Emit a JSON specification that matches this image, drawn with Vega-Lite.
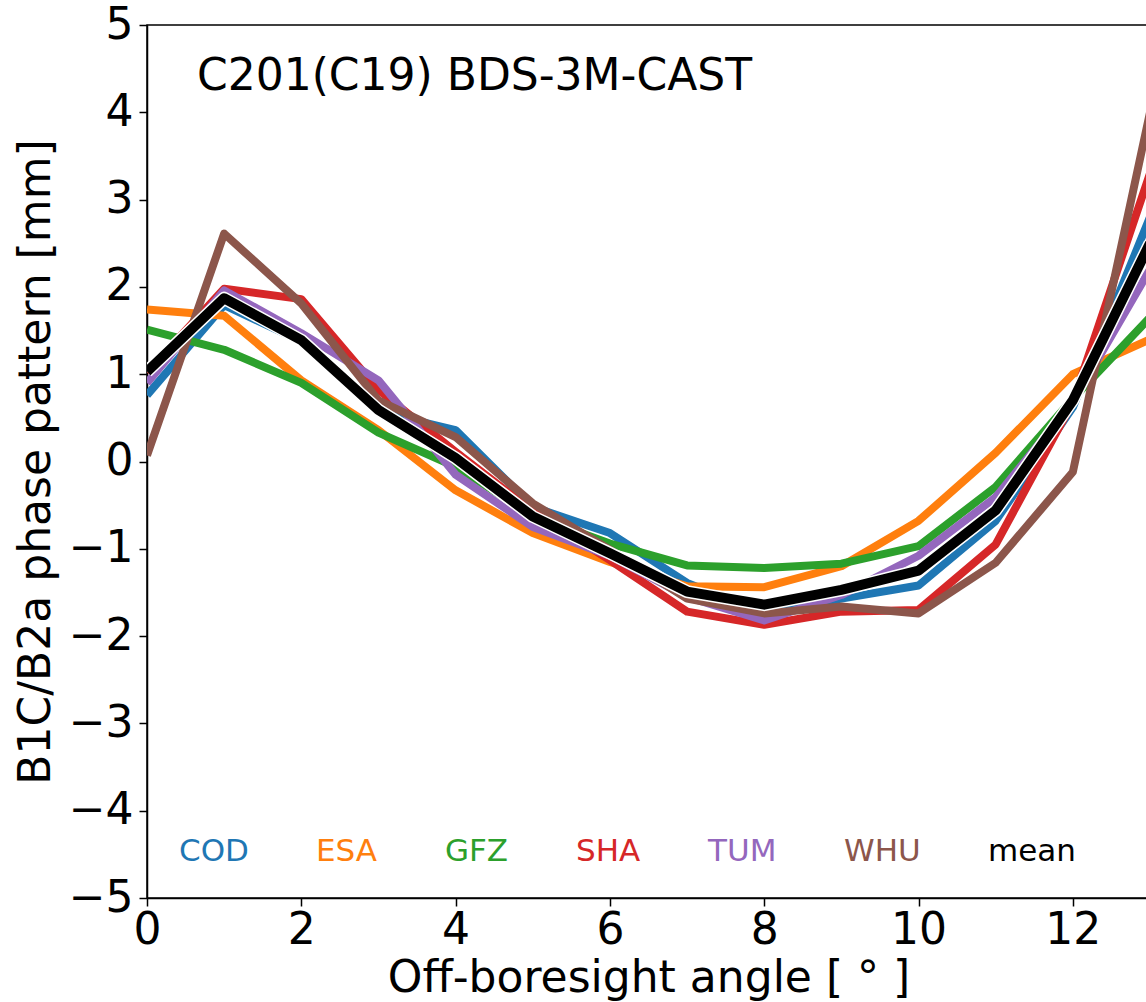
{
  "$schema": "https://vega.github.io/schema/vega-lite/v6.json",
  "autosize": "none",
  "padding": {"left": 147, "top": 25, "right": 0, "bottom": 104},
  "width": 1003,
  "height": 873,
  "background": "white",
  "config": {
    "font": "DejaVu Sans",
    "view": {"stroke": "black", "strokeWidth": 1.5},
    "axis": {
      "grid": false,
      "domainColor": "black",
      "domainWidth": 1.5,
      "tickColor": "black",
      "tickWidth": 1.5,
      "tickSize": 8,
      "labelFont": "DejaVu Sans",
      "labelFontSize": 44,
      "labelColor": "black",
      "labelFlush": false,
      "labelOverlap": false,
      "titleFont": "DejaVu Sans",
      "titleFontSize": 44,
      "titleFontWeight": "normal",
      "titleColor": "black"
    }
  },
  "data": {
    "values": [
      {"series": "COD", "x": 0, "y": 0.76}, {"series": "COD", "x": 1, "y": 1.79}, {"series": "COD", "x": 2, "y": 1.38}, {"series": "COD", "x": 3, "y": 0.57}, {"series": "COD", "x": 4, "y": 0.36}, {"series": "COD", "x": 5, "y": -0.52}, {"series": "COD", "x": 6, "y": -0.82}, {"series": "COD", "x": 7, "y": -1.39}, {"series": "COD", "x": 8, "y": -1.74}, {"series": "COD", "x": 9, "y": -1.57}, {"series": "COD", "x": 10, "y": -1.42}, {"series": "COD", "x": 11, "y": -0.68}, {"series": "COD", "x": 12, "y": 0.62}, {"series": "COD", "x": 13, "y": 2.8},
      {"series": "ESA", "x": 0, "y": 1.74}, {"series": "ESA", "x": 1, "y": 1.67}, {"series": "ESA", "x": 2, "y": 0.93}, {"series": "ESA", "x": 3, "y": 0.36}, {"series": "ESA", "x": 4, "y": -0.33}, {"series": "ESA", "x": 5, "y": -0.82}, {"series": "ESA", "x": 6, "y": -1.15}, {"series": "ESA", "x": 7, "y": -1.43}, {"series": "ESA", "x": 8, "y": -1.44}, {"series": "ESA", "x": 9, "y": -1.2}, {"series": "ESA", "x": 10, "y": -0.68}, {"series": "ESA", "x": 11, "y": 0.1}, {"series": "ESA", "x": 12, "y": 1.0}, {"series": "ESA", "x": 13, "y": 1.4},
      {"series": "GFZ", "x": 0, "y": 1.51}, {"series": "GFZ", "x": 1, "y": 1.28}, {"series": "GFZ", "x": 2, "y": 0.9}, {"series": "GFZ", "x": 3, "y": 0.33}, {"series": "GFZ", "x": 4, "y": -0.06}, {"series": "GFZ", "x": 5, "y": -0.62}, {"series": "GFZ", "x": 6, "y": -0.94}, {"series": "GFZ", "x": 7, "y": -1.19}, {"series": "GFZ", "x": 8, "y": -1.22}, {"series": "GFZ", "x": 9, "y": -1.17}, {"series": "GFZ", "x": 10, "y": -0.97}, {"series": "GFZ", "x": 11, "y": -0.29}, {"series": "GFZ", "x": 12, "y": 0.72}, {"series": "GFZ", "x": 13, "y": 1.65},
      {"series": "SHA", "x": 0, "y": 1.02}, {"series": "SHA", "x": 1, "y": 1.98}, {"series": "SHA", "x": 2, "y": 1.86}, {"series": "SHA", "x": 3, "y": 0.82}, {"series": "SHA", "x": 4, "y": 0.11}, {"series": "SHA", "x": 5, "y": -0.57}, {"series": "SHA", "x": 6, "y": -1.13}, {"series": "SHA", "x": 7, "y": -1.72}, {"series": "SHA", "x": 8, "y": -1.87}, {"series": "SHA", "x": 9, "y": -1.72}, {"series": "SHA", "x": 10, "y": -1.7}, {"series": "SHA", "x": 11, "y": -0.95}, {"series": "SHA", "x": 12, "y": 0.68}, {"series": "SHA", "x": 13, "y": 3.3},
      {"series": "TUM", "x": 0, "y": 0.9}, {"series": "TUM", "x": 1, "y": 1.96}, {"series": "TUM", "x": 2, "y": 1.47}, {"series": "TUM", "x": 3, "y": 0.93}, {"series": "TUM", "x": 4, "y": -0.15}, {"series": "TUM", "x": 5, "y": -0.75}, {"series": "TUM", "x": 6, "y": -1.08}, {"series": "TUM", "x": 7, "y": -1.55}, {"series": "TUM", "x": 8, "y": -1.82}, {"series": "TUM", "x": 9, "y": -1.53}, {"series": "TUM", "x": 10, "y": -1.08}, {"series": "TUM", "x": 11, "y": -0.41}, {"series": "TUM", "x": 12, "y": 0.68}, {"series": "TUM", "x": 13, "y": 2.2},
      {"series": "WHU", "x": 0, "y": 0.07}, {"series": "WHU", "x": 1, "y": 2.61}, {"series": "WHU", "x": 2, "y": 1.81}, {"series": "WHU", "x": 3, "y": 0.7}, {"series": "WHU", "x": 4, "y": 0.28}, {"series": "WHU", "x": 5, "y": -0.48}, {"series": "WHU", "x": 6, "y": -1.01}, {"series": "WHU", "x": 7, "y": -1.57}, {"series": "WHU", "x": 8, "y": -1.74}, {"series": "WHU", "x": 9, "y": -1.66}, {"series": "WHU", "x": 10, "y": -1.74}, {"series": "WHU", "x": 11, "y": -1.16}, {"series": "WHU", "x": 12, "y": -0.12}, {"series": "WHU", "x": 13, "y": 4.0},
      {"series": "mean", "x": 0, "y": 1.03}, {"series": "mean", "x": 1, "y": 1.87}, {"series": "mean", "x": 2, "y": 1.39}, {"series": "mean", "x": 3, "y": 0.59}, {"series": "mean", "x": 4, "y": 0.04}, {"series": "mean", "x": 5, "y": -0.63}, {"series": "mean", "x": 6, "y": -1.05}, {"series": "mean", "x": 7, "y": -1.49}, {"series": "mean", "x": 8, "y": -1.64}, {"series": "mean", "x": 9, "y": -1.47}, {"series": "mean", "x": 10, "y": -1.25}, {"series": "mean", "x": 11, "y": -0.56}, {"series": "mean", "x": 12, "y": 0.7}, {"series": "mean", "x": 13, "y": 2.5}
    ]
  },
  "layer": [
    {
      "transform": [{"filter": "datum.series !== 'mean'"}],
      "mark": {"type": "line", "clip": true, "strokeJoin": "round", "strokeCap": "butt", "strokeWidth": 8},
      "encoding": {
        "x": {
          "field": "x",
          "type": "quantitative",
          "scale": {"domain": [0, 13], "nice": false, "zero": false},
          "axis": {"values": [0, 2, 4, 6, 8, 10, 12], "format": "d", "title": "Off-boresight angle [ ° ]", "labelPadding": 2, "titlePadding": 4}
        },
        "y": {
          "field": "y",
          "type": "quantitative",
          "scale": {"domain": [-5, 5], "nice": false},
          "axis": {"values": [-5, -4, -3, -2, -1, 0, 1, 2, 3, 4, 5], "format": "d", "title": "B1C/B2a phase pattern [mm]", "labelPadding": 6, "titlePadding": 10}
        },
        "color": {
          "field": "series",
          "type": "nominal",
          "scale": {
            "domain": ["COD", "ESA", "GFZ", "SHA", "TUM", "WHU", "mean"],
            "range": ["#1f77b4", "#ff7f0e", "#2ca02c", "#d62728", "#9467bd", "#8c564b", "#000000"]
          },
          "legend": {
            "orient": "none",
            "legendX": 1,
            "legendY": 811,
            "direction": "horizontal",
            "title": null,
            "padding": 0,
            "symbolSize": 0,
            "symbolStrokeWidth": 0,
            "symbolOpacity": 0,
            "labelOffset": 0,
            "columnPadding": 36,
            "labelFont": "DejaVu Sans",
            "labelFontSize": 31,
            "labelLimit": 300,
            "encode": {"labels": {"update": {"fill": {"scale": "color", "field": "value"}}}}
          }
        },
        "order": {"field": "series"}
      }
    },
    {
      "transform": [{"filter": "datum.series === 'mean'"}],
      "mark": {"type": "line", "clip": true, "strokeJoin": "round", "strokeCap": "butt", "strokeWidth": 13, "color": "white"},
      "encoding": {
        "x": {"field": "x", "type": "quantitative"},
        "y": {"field": "y", "type": "quantitative"}
      }
    },
    {
      "transform": [{"filter": "datum.series === 'mean'"}],
      "mark": {"type": "line", "clip": true, "strokeJoin": "round", "strokeCap": "butt", "strokeWidth": 10},
      "encoding": {
        "x": {"field": "x", "type": "quantitative"},
        "y": {"field": "y", "type": "quantitative"},
        "color": {"field": "series", "type": "nominal"}
      }
    },
    {
      "transform": [{"filter": "datum.series === 'COD' && datum.x === 0"}],
      "mark": {
        "type": "text",
        "font": "DejaVu Sans",
        "fontSize": 44,
        "fill": "black",
        "align": "left",
        "baseline": "alphabetic"
      },
      "encoding": {
        "x": {"datum": 0.648, "type": "quantitative"},
        "y": {"datum": 4.26, "type": "quantitative"},
        "text": {"value": "C201(C19) BDS-3M-CAST"}
      }
    }
  ]
}
